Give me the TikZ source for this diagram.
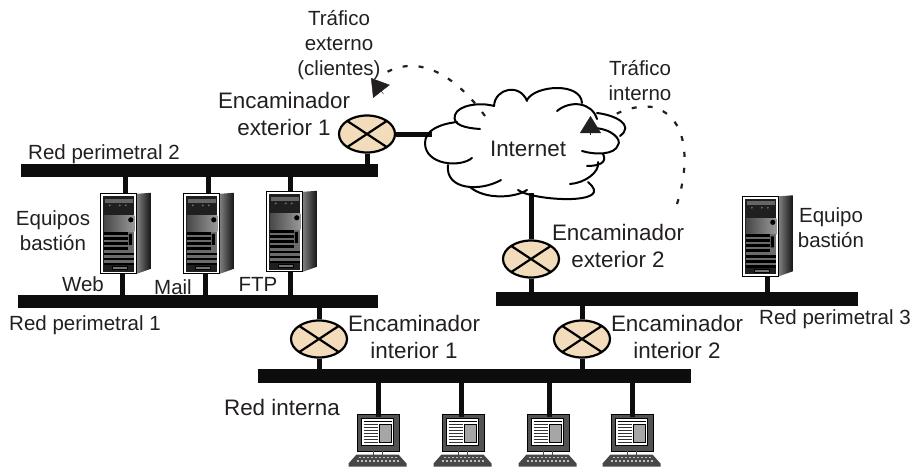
\documentclass[tikz,border=0pt]{standalone}
\usepackage{fontspec}
\setmainfont{Liberation Sans}
\usetikzlibrary{shapes.geometric,arrows.meta}
\definecolor{tinta}{HTML}{231F20}
\definecolor{crema}{HTML}{F3DCBB}
\tikzset{
  bus/.style={rectangle,fill=black!95,inner sep=0pt,minimum height=13.5pt},
  enlace/.style={line width=5pt,black!95},
  nube/.style={line width=2pt,black,line cap=round},
  trafico/.style={line width=2.2pt,tinta,dash pattern=on 5pt off 11pt},
  punta/.style={tinta,-{Triangle[length=17pt,width=21pt]}},
  router/.style={ellipse,draw,line width=2.2pt,fill=crema,minimum width=56pt,minimum height=37pt,inner sep=0pt,
    path picture={\draw[line width=2.2pt] (path picture bounding box.north west) -- (path picture bounding box.south east)
      (path picture bounding box.south west) -- (path picture bounding box.north east);}},
  rotulo/.style={text=tinta,align=center,inner sep=0pt,font=\fontsize{20.5}{25}\selectfont},
  rotulog/.style={text=tinta,align=center,inner sep=0pt,font=\fontsize{22.4}{26.5}\selectfont},
  equipobox/.style={rectangle,inner sep=0pt,minimum width=50pt,minimum height=81pt},
  pantallabox/.style={rectangle,draw=black,fill=black!68,line width=1pt,inner sep=0pt,minimum width=42pt,minimum height=37pt}
}
\newcommand{\equipo}[3]{
  \node[equipobox] (#1) at (#2,#3) {};
  \begin{scope}[shift={(#1.north west)}]
    \shade[left color=black!50,right color=black!92] (36,1) -- (50,0) -- (50,76) -- (36,81) -- cycle;
    \draw[fill=white,line width=.7pt] (0,1) rectangle (36,81);
    \fill[black!88] (2.5,3.5) rectangle (33.5,79);
    \fill[black!60] (4,6) rectangle (32,10);
    \fill[black!55] (9,12.5) circle (1) (19,12.5) circle (1) (25,12.5) circle (1);
    \shade[left color=black!72,right color=black!40] (3,23) rectangle (33.5,39);
    \fill[black!58] (3,39) rectangle (33.5,72);
    \foreach \fila in {39,44,49,54} {
      \fill[black] (3,\fila) rectangle (27,\fila+3);
    }
    \foreach \fila in {60,65,70} {
      \fill[black] (3,\fila) rectangle (33.5,\fila+2.5);
    }
    \fill[black] (30,27) circle (2.6) (28,41) rectangle (31,52);
    \draw[black,fill=black!55,line width=.6pt] (11,73.5) rectangle (26,76.5);
  \end{scope}
}
\newcommand{\portatil}[3]{
  \node[pantallabox] (#1) at (#2,#3) {};
  \begin{scope}[shift={(#1.north west)}]
    \draw[fill=white,line width=.5pt] (5,5) rectangle (37,32);
    \draw[line width=1pt] (7,8) -- (35,8);
    \foreach \fila in {11,14,17,20,23,26,29} {
      \draw[line width=1pt,black!80] (7,\fila) -- (21,\fila);
    }
    \draw[fill=black!35,line width=1pt] (23,11) rectangle (35,29);
    \draw[black!70,line width=1pt] (17,37) -- (17,41) (26,37) -- (26,41);
    \fill[black!72] (0,41) -- (42,41) -- (50,50) -- (50,53) -- (-8,53) -- (-8,50) -- cycle;
    \draw[black!25,line width=1.4pt,dash pattern=on 2pt off 2pt] (2,44) -- (40,44) (0,47.5) -- (43,47.5);
  \end{scope}
}
\begin{document}
\begin{tikzpicture}[x=1pt,y=-1pt]
    \useasboundingbox (0,0) rectangle (914,472);
    \draw
      (199.5,170.5) node[bus,minimum width=357pt] (red2){}
      (198,301.5) node[bus,minimum width=360pt] (red1){}
      (677,299) node[bus,minimum width=362pt] (red3){}
      (474.5,376) node[bus,minimum width=433pt] (redint){};
    \draw
      (367,134) node[router] (ext1){}
      (531,259) node[router] (ext2){}
      (319,339) node[router] (int1){}
      (582,339) node[router] (int2){};
    \equipo{web}{126}{233.5}
    \equipo{mail}{209}{233.5}
    \equipo{ftp}{292}{231.5}
    \equipo{bastion}{768}{236}
    \portatil{pc1}{378}{432.5}
    \portatil{pc2}{463}{432.5}
    \portatil{pc3}{548}{432.5}
    \portatil{pc4}{632}{432.5}
    \coordinate (nubeizq) at (432,134);
    \coordinate (nubeinf) at (531,193);
    \coordinate (webarr) at (125,193);
    \coordinate (mailarr) at (208,193);
    \coordinate (ftparr) at (290,191);
    \coordinate (webaba) at (122,274);
    \coordinate (mailaba) at (205,274);
    \coordinate (ftpaba) at (290,272);
    \coordinate (bastaba) at (767,276);
    \coordinate (pc1arr) at (378,417);
    \coordinate (pc2arr) at (461.5,417);
    \coordinate (pc3arr) at (549,417);
    \coordinate (pc4arr) at (632,417);
    \begin{scope}[enlace]
      \draw (ext1.east) to (nubeizq);
      \draw (nubeinf) to (ext2.north);
      \draw (ext1.south) to (ext1.south |- red2.north);
      \draw (ext2.south) to (ext2.south |- red3.north);
      \draw (int1.north) to (int1.north |- red1.south);
      \draw (int1.south) to (int1.south |- redint.north);
      \draw (int2.north) to (int2.north |- red3.south);
      \draw (int2.south) to (int2.south |- redint.north);
      \draw (webarr) to (webarr |- red2.south);
      \draw (mailarr) to (mailarr |- red2.south);
      \draw (ftparr) to (ftparr |- red2.south);
      \draw (webaba) to (webaba |- red1.north);
      \draw (mailaba) to (mailaba |- red1.north);
      \draw (ftpaba) to (ftpaba |- red1.north);
      \draw (bastaba) to (bastaba |- red3.north);
      \draw (pc1arr) to (pc1arr |- redint.south);
      \draw (pc2arr) to (pc2arr |- redint.south);
      \draw (pc3arr) to (pc3arr |- redint.south);
      \draw (pc4arr) to (pc4arr |- redint.south);
    \end{scope}
    \begin{scope}[nube]
      \draw (480,129) .. controls (465,128) and (452,125) .. (455,115) .. controls (458,105) and (480,102) .. (494,106);
      \draw (494,106) .. controls (495,88) and (520,83) .. (527,101);
      \draw (527,100) .. controls (535,85) and (581,82) .. (582,103);
      \draw (557,111) .. controls (570,100) and (592,102) .. (597,119);
      \draw (597,113) .. controls (615,115) and (635,125) .. (620,136);
      \draw (592,128) .. controls (612,128) and (622,140) .. (618,145) .. controls (615,155) and (595,155) .. (582,151);
      \draw (587,166) .. controls (598,166) and (608,163) .. (603,154);
      \draw (570,184) .. controls (585,183) and (600,172) .. (598,162);
      \draw (518,190) .. controls (530,199) and (590,204) .. (594,192) .. controls (595,188) and (590,184) .. (588,182);
      \draw (470,187) .. controls (485,200) and (515,198) .. (527,190);
      \draw (501,180) .. controls (480,192) and (445,190) .. (448,165);
      \draw (472,158) .. controls (460,168) and (425,165) .. (425,143) .. controls (425,130) and (440,124) .. (457,122);
    \end{scope}
    \coordinate (fin1) at (387,72);
    \coordinate (base1) at (383.5,94);
    \coordinate (tip1) at (371,78);
    \coordinate (ini2) at (677,204);
    \coordinate (fin2) at (608,119);
    \coordinate (base2) at (590.5,135);
    \coordinate (tip2) at (590.5,116);
    \draw[trafico] (485,116) .. controls (455,75) and (420,55) .. (fin1);
    \draw[trafico] (ini2) .. controls (688,170) and (692,118) .. (653,107) .. controls (638,105) and (620,110) .. (fin2);
    \draw[punta] (base1) -- (tip1);
    \draw[punta] (base2) -- (tip2);
    \draw
      (528,149) node[rotulog] (internet){Internet}
      (284,114) node[rotulog] (lext1){Encaminador\\exterior 1}
      (618,246) node[rotulog] (lext2){Encaminador\\exterior 2}
      (414,337) node[rotulog] (lint1){Encaminador\\interior 1}
      (677,337) node[rotulog] (lint2){Encaminador\\interior 2}
      (339,45) node[rotulo] (ltraf1){Tráfico\\externo\\(clientes)}
      (640,81) node[rotulo] (ltraf2){Tráfico\\interno}
      (104,154) node[rotulo] (lred2){Red perimetral 2}
      (85,325) node[rotulo] (lred1){Red perimetral 1}
      (835,319) node[rotulo] (lred3){Red perimetral 3}
      (282,407) node[rotulog] (lredint){Red interna}
      (53,231) node[rotulo] (lbast1){Equipos\\bastión}
      (831,228) node[rotulo] (lbast2){Equipo\\bastión}
      (83,284) node[rotulo] (lweb){Web}
      (173,287) node[rotulo] (lmail){Mail}
      (258,284) node[rotulo] (lftp){FTP};
\end{tikzpicture}
\end{document}
